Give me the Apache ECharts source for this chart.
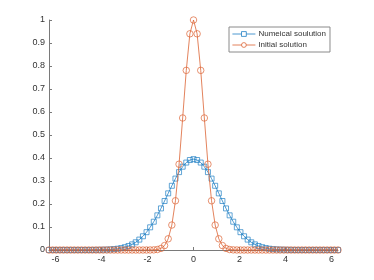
<!DOCTYPE html>
<html>
<head>
<meta charset="utf-8">
<script src="https://cdn.jsdelivr.net/npm/echarts@6/dist/echarts.min.js"></script>
<style>
html,body{margin:0;padding:0;background:#fff;}
#c{width:374px;height:280px;}
</style>
</head>
<body>
<div id="c"></div>
<script>
const xValues = [-6.283,-6.126,-5.969,-5.812,-5.655,-5.498,-5.341,-5.184,-5.027,-4.869,
  -4.712,-4.555,-4.398,-4.241,-4.084,-3.927,-3.770,-3.613,-3.456,-3.299,
  -3.142,-2.985,-2.827,-2.670,-2.513,-2.356,-2.199,-2.042,-1.885,-1.728,
  -1.571,-1.414,-1.257,-1.100,-0.942,-0.785,-0.628,-0.471,-0.314,-0.157,
  0,
  0.157,0.314,0.471,0.628,0.785,0.942,1.100,1.257,1.414,1.571,
  1.728,1.885,2.042,2.199,2.356,2.513,2.670,2.827,2.985,3.142,
  3.299,3.456,3.613,3.770,3.927,4.084,4.241,4.398,4.555,4.712,
  4.869,5.027,5.184,5.341,5.498,5.655,5.812,5.969,6.126,6.283];

const numerical = [0,0,0,0,0,0,0,0,0,0,
  0,0,0,0.0003,0.0006,0.0010,0.0015,0.0024,0.0037,0.0056,
  0.0084,0.0122,0.0174,0.0244,0.0335,0.0452,0.0597,0.0775,0.0986,0.1230,
  0.1507,0.1809,0.2131,0.2463,0.2792,0.3104,0.3386,0.3622,0.3801,0.3912,
  0.395,
  0.3912,0.3801,0.3622,0.3386,0.3104,0.2792,0.2463,0.2131,0.1809,0.1507,
  0.1230,0.0986,0.0775,0.0597,0.0452,0.0335,0.0244,0.0174,0.0122,0.0084,
  0.0056,0.0037,0.0024,0.0015,0.0010,0.0006,0.0003,0,0,0,
  0,0,0,0,0,0,0,0,0,0];

const initial = [0,0,0,0,0,0,0,0,0,0,
  0,0,0,0,0,0,0,0,0,0,
  0,0,0,0,0,0,0,0,0.0001,0.0006,
  0.0021,0.0068,0.0193,0.0487,0.1085,0.214,0.373,0.574,0.781,0.940,
  1,
  0.940,0.781,0.574,0.373,0.214,0.1085,0.0487,0.0193,0.0068,0.0021,
  0.0006,0.0001,0,0,0,0,0,0,0,0,
  0,0,0,0,0,0,0,0,0,0,
  0,0,0,0,0,0,0,0,0,0];

const xTicks = [-6,-4,-2,0,2,4,6];
const yTicks = [0,0.1,0.2,0.3,0.4,0.5,0.6,0.7,0.8,0.9,1];
const seriesNames = ['Numeical soulution','Initial solution'];

const axisColor = '#7a7a7a';
const textColor = '#333333';
const font = 'Liberation Sans, Arial, Helvetica, sans-serif';
const blue = '#1f7fc4';
const orange = '#dc6333';
const clear = 'rgba(255,255,255,0)';

const chart = echarts.init(document.getElementById('c'), null, {renderer:'canvas'});
chart.setOption({
  animation: false,
  backgroundColor: '#ffffff',
  grid: {left:49, right:36, top:20, bottom:30, containLabel:false},
  legend: {
    orient:'vertical',
    left:229, top:27,
    padding:[2,4,2,3],
    itemWidth:23, itemHeight:6, itemGap:1,
    borderColor:'#8a8a8a', borderWidth:1,
    backgroundColor:'#ffffff',
    lineStyle:{width:0.8},
    textStyle:{fontSize:8, color:textColor, fontFamily:font, lineHeight:10, padding:[0,0,0,-2]},
    data: [
      {name: seriesNames[0], itemStyle:{color:'#ffffff', borderColor:blue, borderWidth:0.8}},
      {name: seriesNames[1], itemStyle:{color:'#ffffff', borderColor:orange, borderWidth:0.8}}
    ]
  },
  xAxis: {
    type:'value',
    min: xValues[0], max: xValues[xValues.length-1],
    axisLine:{show:true, onZero:false, lineStyle:{color:axisColor, width:1}},
    axisTick:{show:true, inside:true, length:3, customValues:xTicks, lineStyle:{color:axisColor}},
    axisLabel:{customValues:xTicks, fontSize:9, color:textColor, fontFamily:font, margin:5},
    splitLine:{show:false}
  },
  yAxis: {
    type:'value',
    min:0, max:1,
    axisLine:{show:true, onZero:false, lineStyle:{color:axisColor, width:1}},
    axisTick:{show:true, inside:true, length:3, customValues:yTicks, lineStyle:{color:axisColor}},
    axisLabel:{customValues:yTicks, fontSize:9, color:textColor, fontFamily:font, margin:4,
      formatter: v => String(Math.round(v*10)/10)},
    splitLine:{show:false}
  },
  series: [
    {
      name: seriesNames[0], type:'line',
      data: xValues.map((x,i)=>[x, numerical[i]]),
      symbol:'rect', symbolSize:5,
      lineStyle:{color:blue, width:0.8},
      itemStyle:{color:clear, borderColor:blue, borderWidth:0.7},
      clip:false, z:2
    },
    {
      name: seriesNames[1], type:'line',
      data: xValues.map((x,i)=>[x, initial[i]]),
      symbol:'circle', symbolSize:6.5,
      lineStyle:{color:orange, width:0.8},
      itemStyle:{color:clear, borderColor:orange, borderWidth:0.7},
      clip:false, z:3
    }
  ]
});
</script>
</body>
</html>
